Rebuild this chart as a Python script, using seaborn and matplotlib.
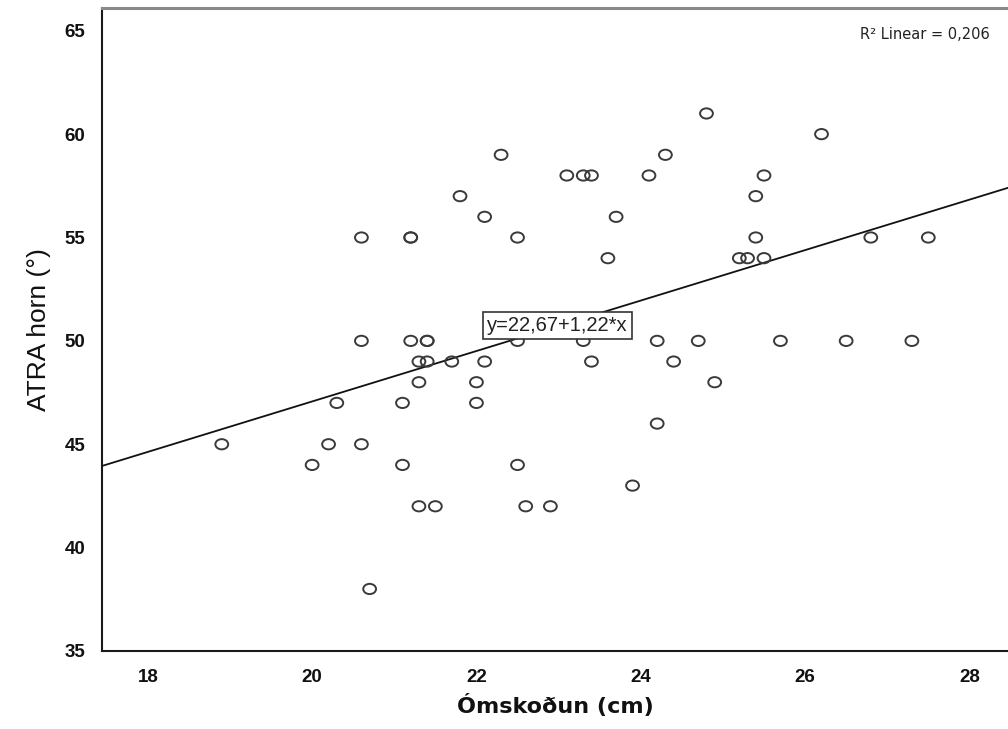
import numpy as np
import pandas as pd
import matplotlib
matplotlib.use("Agg")
import matplotlib.pyplot as plt
from matplotlib.path import Path
import seaborn as sns

# mælingar: ómskoðun (cm) og ATRA horn (°)
omskodun = [18.9, 20.0, 20.2, 20.3, 20.6, 20.6, 20.6, 20.7, 21.1, 21.1,
            21.2, 21.2, 21.2, 21.3, 21.3, 21.3, 21.4, 21.4, 21.4, 21.5,
            21.7, 21.8, 22.0, 22.0, 22.1, 22.1, 22.3, 22.5, 22.5, 22.5,
            22.6, 22.9, 23.1, 23.3, 23.4, 23.3, 23.4, 23.6, 23.7, 23.9,
            24.1, 24.2, 24.2, 24.3, 24.4, 24.7, 24.8, 24.9, 25.2, 25.3,
            25.4, 25.4, 25.5, 25.5, 25.7, 26.2, 26.5, 26.8, 27.3, 27.5]
atra_horn = [45, 44, 45, 47, 55, 50, 45, 38, 44, 47,
             55, 55, 50, 49, 48, 42, 50, 50, 49, 42,
             49, 57, 48, 47, 56, 49, 59, 55, 50, 44,
             42, 42, 58, 58, 58, 50, 49, 54, 56, 43,
             58, 50, 46, 59, 49, 50, 61, 48, 54, 54,
             57, 55, 58, 54, 50, 60, 50, 55, 50, 55]

intercept = 22.67
slope = 1.22
r2 = 0.206

x_ticks = [18, 20, 22, 24, 26, 28]
y_ticks = [35, 40, 45, 50, 55, 60, 65]
x_lim = (17.44, 28.47)
y_lim = (35, 66.1)

df = pd.DataFrame({"omskodun": omskodun, "atra": atra_horn})

sns.set_style("white")
plt.rcParams["font.family"] = ["DejaVu Sans"]

fig = plt.figure(figsize=(10.08, 7.29), dpi=100)
ax = fig.add_axes([0.101, 0.107, 0.899, 0.882])

# örlítið breiðari hringir eins og í SPSS
ellipse = Path.unit_circle().transformed(matplotlib.transforms.Affine2D().scale(1.0, 0.8))
sns.scatterplot(data=df, x="omskodun", y="atra", ax=ax, marker=ellipse, s=85,
                facecolor="none", edgecolor="#3a3a3a", linewidth=1.4, zorder=3)

# aðhvarfslína
line_x = np.array(x_lim)
line_df = pd.DataFrame({"x": line_x, "y": intercept + slope * line_x})
sns.lineplot(data=line_df, x="x", y="y", ax=ax, color="#111111", linewidth=1.3, zorder=2)

ax.set_xlim(*x_lim)
ax.set_ylim(*y_lim)
ax.set_xticks(x_ticks)
ax.set_yticks(y_ticks)

tick_font = {"family": ["Liberation Sans"], "weight": "bold", "size": 13.5}
ax.set_xticklabels([str(t) for t in x_ticks], fontdict=tick_font, color="#111111")
ax.set_yticklabels([str(t) for t in y_ticks], fontdict=tick_font, color="#111111")
ax.tick_params(axis="both", direction="out", length=9, width=1.5, color="#222222", pad=3)
ax.tick_params(axis="x", pad=4)

ax.set_xlabel("Ómskoðun (cm)", fontsize=16, fontweight="bold", family=["DejaVu Sans"],
              color="#111111", labelpad=6)
ax.set_ylabel("ATRA horn (°)", fontsize=19, family=["Liberation Sans"],
              color="#111111", labelpad=10)

for side in ["left", "bottom"]:
    ax.spines[side].set_color("#1a1a1a")
    ax.spines[side].set_linewidth(1.5)
ax.spines["top"].set_color("#8a8a8a")
ax.spines["top"].set_linewidth(2.2)
ax.spines["right"].set_visible(False)

# jafna línunnar og R²
ax.text(22.99, 50.74, "y=22,67+1,22*x", ha="center", va="center", fontsize=14.5,
        family=["Liberation Sans"], color="#222222", zorder=4,
        bbox=dict(boxstyle="square,pad=0.2", facecolor="white", edgecolor="#333333", linewidth=1.2))
ax.text(0.982, 0.953, f"R² Linear = {r2:.3f}".replace(".", ","), transform=fig.transFigure,
        ha="right", va="center", fontsize=10.5, color="#222222")

fig.savefig("out.png", dpi=100)
